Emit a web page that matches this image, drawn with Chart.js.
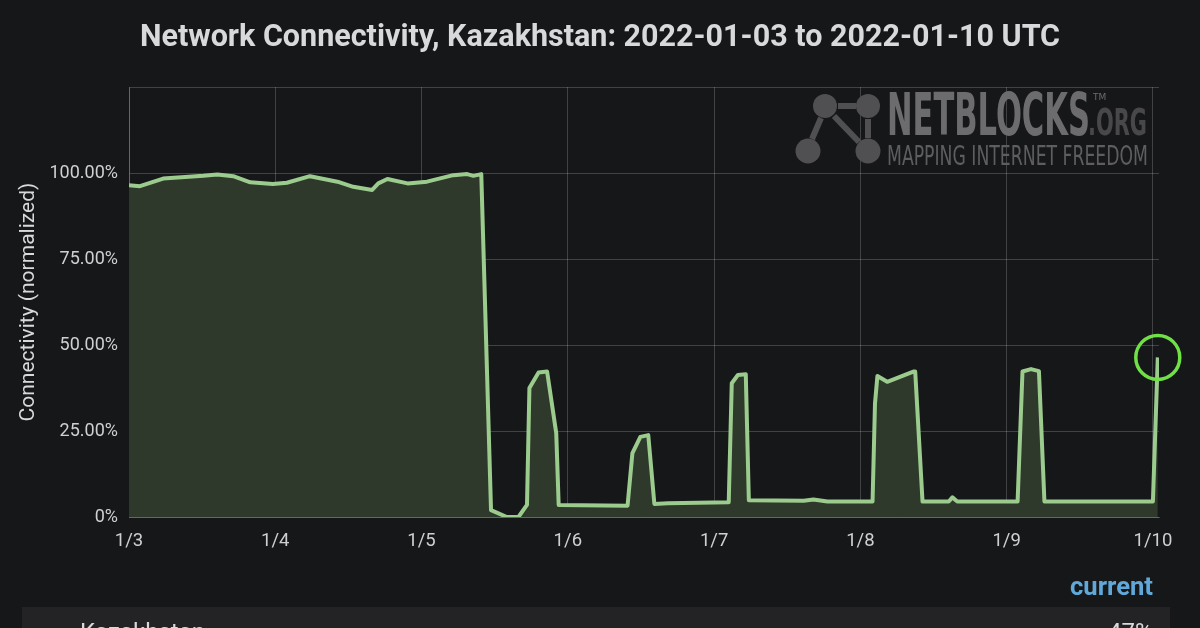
<!DOCTYPE html>
<html>
<head>
<meta charset="utf-8">
<title>Network Connectivity, Kazakhstan</title>
<script src="https://cdn.jsdelivr.net/npm/chart.js@4.4.1/dist/chart.umd.min.js"></script>
<style>
  html, body { margin: 0; padding: 0; background: #161719; }
  #wrap { position: relative; width: 1200px; height: 628px; overflow: hidden; background: #161719; }
  #chart { position: absolute; left: 0; top: 0; }
  #overlay { position: absolute; left: 0; top: 0; pointer-events: none; }
</style>
</head>
<body>
<div id="wrap">
  <canvas id="chart" width="1200" height="628"></canvas>
  <svg id="overlay" width="1200" height="628" xmlns="http://www.w3.org/2000/svg">
    <!-- marca d'água NetBlocks -->
    <g stroke="#505052" stroke-width="6" stroke-linecap="butt">
      <line x1="838" y1="106" x2="856" y2="106" />
      <line x1="868" y1="119" x2="868" y2="138" />
      <line x1="812" y1="139" x2="821" y2="118" />
      <line x1="834" y1="116" x2="859" y2="142" />
    </g>
    <g fill="#505052">
      <circle cx="825" cy="106" r="12" />
      <circle cx="868" cy="106" r="12" />
      <circle cx="808" cy="151" r="12.5" />
      <circle cx="868" cy="151" r="12.5" />
    </g>
    <text x="887" y="135" font-family="DejaVu Sans Condensed, DejaVu Sans" font-weight="bold" font-size="58" fill="#6c6c6e" textLength="203" lengthAdjust="spacingAndGlyphs">NETBLOCKS</text>
    <text x="1093" y="100" font-family="DejaVu Sans" font-size="9" fill="#6c6c6e">TM</text>
    <text x="1088" y="135" font-family="DejaVu Sans Condensed, DejaVu Sans" font-weight="bold" font-size="37" fill="#48484a" textLength="59" lengthAdjust="spacingAndGlyphs">.ORG</text>
    <text x="887" y="165" font-family="DejaVu Sans Condensed, DejaVu Sans" font-weight="300" font-size="27" fill="#5e5e60" textLength="261" lengthAdjust="spacingAndGlyphs">MAPPING INTERNET FREEDOM</text>

    <!-- legenda inferior -->
    <text x="1070" y="595" font-family="Roboto" font-weight="bold" font-size="25" fill="#5fa8d9" textLength="83" lengthAdjust="spacingAndGlyphs">current</text>
    <rect x="22" y="607" width="1148" height="30" fill="#232326" />
    <text x="80" y="640" font-family="Roboto" font-size="24" fill="#d8d9da">Kazakhstan</text>
    <text x="1108" y="640" font-family="Roboto" font-size="24" fill="#d8d9da">47%</text>
  </svg>
</div>
<script>
// Conectividade de rede (normalizada), Cazaquistão, 3 a 10 de jan. de 2022
// horas desde 2022-01-03 00:00 UTC
const hours = [0, 1.8, 5.6, 12.2, 14.5, 17.1, 19.9, 23.6, 25.9, 29.7,
    34.2, 36.8, 39.9, 40.9, 42.4, 45.7, 48.9, 53.2, 55.5, 56.5,
    57.8, 59.4, 62.0, 63.9, 65.3, 65.7, 67.2, 68.6, 70.1, 70.5,
    81.8, 82.6, 83.9, 85.2, 86.2, 88.4, 98.4, 98.9, 99.9, 101.2,
    101.7, 110.7, 112.3, 114.6, 122.0, 122.4, 122.8, 124.4, 126.6, 128.7,
    129.0, 130.2, 134.5, 135.1, 135.9, 145.8, 146.6, 148.0, 149.3, 150.2,
    168.0, 168.8];
const connectivity = [96.5, 96.2, 98.4, 99.2, 99.6, 99.1, 97.3, 96.8, 97.2, 99.1,
    97.5, 96.0, 95.1, 97.0, 98.3, 97.0, 97.5, 99.4, 99.7, 99.2,
    99.7, 2.0, 0, 0, 3.5, 37.5, 42, 42.3, 24.4, 3.5,
    3.3, 18.6, 23.3, 23.8, 3.8, 4.0, 4.3, 38.9, 41.3, 41.5,
    4.9, 4.7, 5.1, 4.5, 4.5, 33, 41, 39.3, 40.8, 42.3,
    42.3, 4.5, 4.5, 5.7, 4.5, 4.5, 42.3, 43, 42.4, 4.5,
    4.5, 46.4];
const dayLabels = ['1/3', '1/4', '1/5', '1/6', '1/7', '1/8', '1/9', '1/10'];
const yTicks = [0, 25, 50, 75, 100, 125];

const gridColor = 'rgba(255,255,255,0.19)';
const textColor = '#cfd0d1';

// círculo verde em volta do valor atual
const currentMarker = {
    id: 'currentMarker',
    afterDatasetsDraw(chart) {
        const pts = chart.getDatasetMeta(0).data;
        const last = pts[pts.length - 1];
        const ctx = chart.ctx;
        ctx.save();
        ctx.strokeStyle = '#6fe046';
        ctx.lineWidth = 3.5;
        ctx.beginPath();
        ctx.arc(last.x, last.y, 22, 0, Math.PI * 2);
        ctx.stroke();
        ctx.restore();
    }
};

new Chart(document.getElementById('chart'), {
    type: 'line',
    data: {
        datasets: [{
            data: hours.map((h, i) => ({ x: h, y: connectivity[i] })),
            borderColor: '#9ccb8e',
            backgroundColor: '#2e392b',
            borderWidth: 4,
            borderJoinStyle: 'round',
            fill: 'origin',
            pointRadius: 0,
            tension: 0
        }]
    },
    options: {
        responsive: false,
        animation: false,
        layout: { padding: 0 },
        plugins: {
            legend: { display: false },
            tooltip: { enabled: false },
            title: {
                display: true,
                text: 'Network Connectivity, Kazakhstan: 2022-01-03 to 2022-01-10 UTC',
                color: '#d8d9da',
                font: { family: 'Roboto', size: 30.5, weight: 'bold' },
                padding: { top: 20, bottom: 30.5 }
            }
        },
        scales: {
            x: {
                type: 'linear',
                min: 0,
                max: 169,
                afterBuildTicks: (scale) => {
                    scale.ticks = dayLabels.map((d, i) => ({ value: i * 24 }));
                },
                afterFit: (scale) => { scale.height = 111; },
                ticks: {
                    color: textColor,
                    font: { family: 'Roboto', size: 18.5 },
                    padding: 13,
                    autoSkip: false,
                    maxRotation: 0,
                    callback: (v) => dayLabels[Math.round(v / 24)]
                },
                grid: { color: gridColor, drawTicks: false },
                border: { color: gridColor }
            },
            y: {
                min: 0,
                max: 125,
                afterBuildTicks: (scale) => {
                    scale.ticks = yTicks.map(v => ({ value: v }));
                },
                afterFit: (scale) => { scale.width = 129; },
                ticks: {
                    color: textColor,
                    font: { family: 'Roboto', size: 18 },
                    padding: 11,
                    callback: (v) => v === 0 ? '0%' : (v > 100 ? '' : v.toFixed(2) + '%')
                },
                grid: { color: gridColor, drawTicks: false },
                border: { color: gridColor },
                title: {
                    display: true,
                    text: 'Connectivity (normalized)',
                    color: '#d8d9da',
                    font: { family: 'Roboto', size: 21 },
                    padding: { top: 16, bottom: 0 }
                }
            },
            // eixo vazio à direita, só reserva a margem
            yRight: {
                position: 'right',
                min: 0,
                max: 125,
                grid: { display: false, drawTicks: false },
                border: { display: false },
                ticks: { display: false },
                afterFit: (scale) => { scale.width = 41; }
            }
        }
    },
    plugins: [currentMarker]
});
</script>
</body>
</html>
